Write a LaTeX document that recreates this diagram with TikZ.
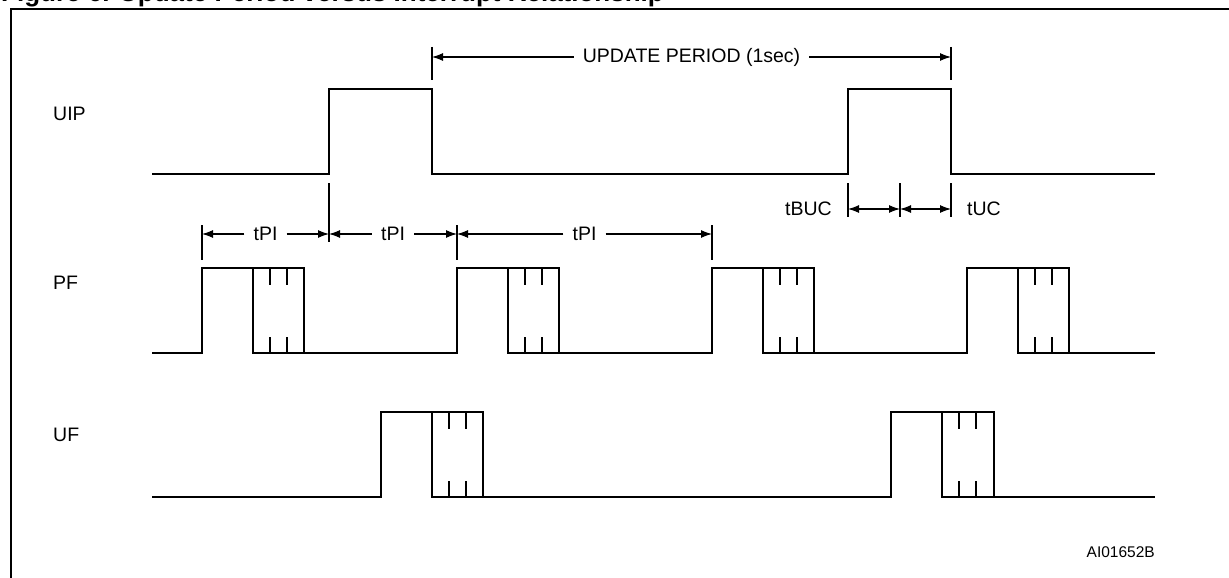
\documentclass[tikz,border=0pt]{standalone}
\usepackage{fontspec}
\setmainfont{Liberation Sans}
\usetikzlibrary{arrows.meta}
\begin{document}
\begin{tikzpicture}[x=1pt,y=-1pt,
  sig/.style={line width=2.4pt},
  frame/.style={line width=2.6pt},
  tickline/.style={line width=1.1pt},
  tickbox/.style={line width=2.2pt},
  dimarr/.style={line width=1.1pt,-{Latex[length=11pt,width=8pt]}},
  dimboth/.style={line width=1.1pt,{Latex[length=11pt,width=8pt]}-{Latex[length=11pt,width=8pt]}},
  lbl/.style={font=\fontsize{19.5}{22}\selectfont, inner sep=0pt},
  dimlbl/.style={font=\fontsize{19.5}{22}\selectfont, inner ysep=0pt, inner xsep=9pt},
  ]
\useasboundingbox (0,0) rectangle (1229,578);
\clip (0,0) rectangle (1229,578);
% title (cut off at the top edge)
\node[anchor=base west, inner sep=0pt, font=\bfseries\fontsize{26}{28}\selectfont] (title) at (1,2) {Figure 6. Update Period versus Interrupt Relationship};
% frame
\draw[frame] (11,580) -- (11,9) -- (1231,9);

% signal labels
\node[lbl, anchor=west] (luip) at (53,114) {UIP};
\node[lbl, anchor=west] (lpf) at (53,283) {PF};
\node[lbl, anchor=west] (luf) at (53,435) {UF};

% UIP
\draw[sig] (152,174) -- (329,174) -- (329,89) -- (432,89) -- (432,174) -- (848,174) -- (848,89) -- (951,89) -- (951,174) -- (1155,174);

% PF
\draw[sig] (152,353) -- (202,353) -- (202,268) -- (304,268) -- (304,353) -- (457,353) -- (457,268) -- (559,268) -- (559,353) -- (712,353) -- (712,268) -- (814,268) -- (814,353) -- (967,353) -- (967,268) -- (1069,268) -- (1069,353) -- (1155,353);
\foreach \r in {202,457,712,967} {
  \draw[sig] (\r+51,268) -- (\r+51,353) -- (\r+102,353);
  \draw[tickbox] (\r+68,268) -- (\r+68,285) (\r+85,268) -- (\r+85,285)
                 (\r+68,353) -- (\r+68,337) (\r+85,353) -- (\r+85,337);
}

% UF
\draw[sig] (152,497) -- (381,497) -- (381,412) -- (483,412) -- (483,497) -- (891,497) -- (891,412) -- (994,412) -- (994,497) -- (1155,497);
\foreach \r in {381,891} {
  \draw[sig] (\r+51,412) -- (\r+51,497) -- (\r+102,497);
  \draw[tickbox] (\r+68,412) -- (\r+68,429) (\r+85,412) -- (\r+85,429)
                 (\r+68,497) -- (\r+68,481) (\r+85,497) -- (\r+85,481);
}

% update period
\draw[tickline] (432,47) -- (432,80) (951,47) -- (951,80);
\coordinate (up1) at (432,57);
\coordinate (up2) at (951,57);
\node[dimlbl] (upd) at (691.5,57) {UPDATE PERIOD (1sec)};
\draw[dimarr] (upd.west) -- (up1);
\draw[dimarr] (upd.east) -- (up2);

% tPI
\draw[tickline] (202,225) -- (202,260) (329,183) -- (329,242) (457,225) -- (457,260) (712,225) -- (712,260);
\coordinate (p1) at (202,234);
\coordinate (p2) at (329,234);
\coordinate (p3) at (457,234);
\coordinate (p4) at (712,234);
\node[dimlbl] (tpi1) at (265.5,234) {tPI};
\node[dimlbl] (tpi2) at (393,234) {tPI};
\node[dimlbl] (tpi3) at (584.5,234) {tPI};
\draw[dimarr] (tpi1.west) -- (p1);
\draw[dimarr] (tpi1.east) -- (p2);
\draw[dimarr] (tpi2.west) -- (p2);
\draw[dimarr] (tpi2.east) -- (p3);
\draw[dimarr] (tpi3.west) -- (p3);
\draw[dimarr] (tpi3.east) -- (p4);

% tBUC / tUC
\draw[tickline] (848,183) -- (848,217) (900,183) -- (900,217) (951,183) -- (951,217);
\coordinate (b1) at (848,209);
\coordinate (b2) at (900,209);
\coordinate (b3) at (951,209);
\draw[dimboth] (b1) -- (b2);
\draw[dimboth] (b2) -- (b3);
\node[lbl, anchor=east] (tbuc) at (832,209) {tBUC};
\node[lbl, anchor=west] (tuc) at (967,209) {tUC};

% figure id
\node[anchor=east, inner sep=0pt, font=\fontsize{15.5}{17}\selectfont] (aid) at (1155,552) {AI01652B};
\end{tikzpicture}
\end{document}
